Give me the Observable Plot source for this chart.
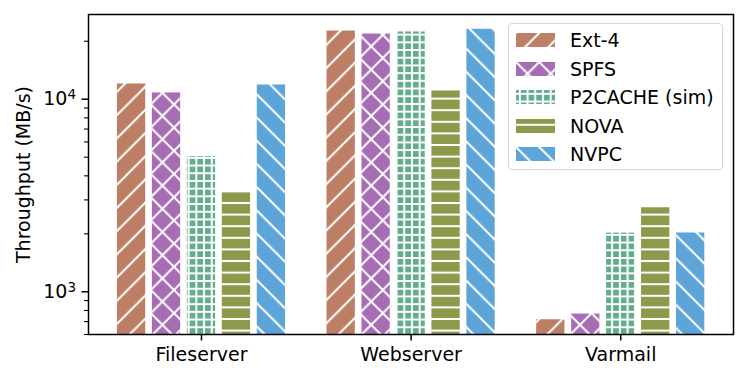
<!DOCTYPE html>
<html><head><meta charset="utf-8">
<script src="https://cdn.jsdelivr.net/npm/d3@7"></script>
<script src="https://cdn.jsdelivr.net/npm/@observablehq/plot@0.6"></script>
<style>
body{margin:0;background:#fff;font-family:"DejaVu Sans",sans-serif;}
#wrap{position:relative;width:747px;height:380px;}
#defs{position:absolute;left:0;top:0;width:0;height:0;}
#legend{position:absolute;left:508px;top:23px;width:215px;height:147px;border:1.5px solid #d6d6d6;border-radius:4px;background:rgba(255,255,255,0.85);box-sizing:border-box;}
.row{position:absolute;left:7px;height:20px;display:flex;align-items:center;font-size:19px;color:#000;white-space:nowrap;}
.row svg{display:block;margin-right:15px;}
</style></head>
<body>
<div id="wrap"><svg id="defs" width="0" height="0"><defs id="pdefs"></defs></svg><div id="chart"></div><div id="legend"></div></div>
<script>
// ---- data ----
const groups = ["Fileserver", "Webserver", "Varmail"];
const seriesNames = ["Ext-4", "SPFS", "P2CACHE (sim)", "NOVA", "NVPC"];
const ext4 = [12000, 22600, 716];
const spfs = [10780, 21800, 766];
const p2cache = [5035, 22350, 2017];
const nova = [3304, 11040, 2731];
const nvpc = [11860, 23080, 2020];
const yMajorTicks = [1000, 10000];
const yMajorExponents = ["3", "4"];
const yMinorTicks = [600, 700, 800, 900, 2000, 3000, 4000, 5000, 6000, 7000, 8000, 9000, 20000];
const groupTicks = [0, 1, 2];

// ---- styles ----
const colors = ["#bc7f65", "#a66cb4", "#63ad8c", "#8b9a4b", "#5da5d9"];
const hatches = ["/", "x", "+", "-", "\\"];
const hatchSize = {"/": 23.2, "x": 23.2, "+": 7.7, "-": 11.6, "\\": 23.2};

const seriesValues = [ext4, spfs, p2cache, nova, nvpc];

function patternMarkup(id, kind, color) {
  const s = hatchSize[kind];
  let path = "";
  const fwd = `M0,${s} L${s},0 M${-s/4},${s/4} L${s/4},${-s/4} M${3*s/4},${5*s/4} L${5*s/4},${3*s/4}`;
  const back = `M0,0 L${s},${s} M${-s/4},${3*s/4} L${s/4},${5*s/4} M${3*s/4},${-s/4} L${5*s/4},${s/4}`;
  if (kind === "/") path = fwd;
  else if (kind === "\\") path = back;
  else if (kind === "x") path = fwd + " " + back;
  else if (kind === "+") path = `M0,${s/2} H${s} M${s/2},0 V${s}`;
  else if (kind === "-") path = `M0,${s/2} H${s}`;
  return `<pattern id="${id}" patternUnits="userSpaceOnUse" width="${s}" height="${s}">` +
    `<rect width="${s}" height="${s}" fill="${color}"/>` +
    `<path d="${path}" stroke="#fff" stroke-width="2" fill="none"/></pattern>`;
}
document.getElementById("pdefs").innerHTML =
  hatches.map((h, i) => patternMarkup("pat" + i, h, colors[i])).join("");

// ---- table ----
const rows = [];
seriesValues.forEach((vals, si) => vals.forEach((v, gi) => rows.push({gi, si, group: groups[gi], series: seriesNames[si], value: v})));

const slot = 0.1668, barW = 0.135, yMin = 600;

const chart = Plot.plot({
  width: 747, height: 380,
  marginLeft: 88, marginRight: 14, marginTop: 14, marginBottom: 46,
  style: {fontFamily: "DejaVu Sans", fontSize: "19px", color: "#000", background: "transparent", overflow: "visible"},
  x: {type: "linear", domain: [-0.539, 2.538]},
  y: {type: "log", domain: [yMin, 27540]},
  marks: [
    ...seriesNames.map((name, si) => Plot.rectY(rows.filter(r => r.si === si), {
      x1: d => d.gi + (d.si - 2) * slot - barW / 2,
      x2: d => d.gi + (d.si - 2) * slot + barW / 2,
      y1: yMin, y2: "value", fill: `url(#pat${si})`
    })),
    Plot.axisY(yMinorTicks, {tickSize: 4, tickFormat: () => "", strokeWidth: 1.1, label: null}),
    Plot.axisY(yMajorTicks, {tickSize: 6.5, tickPadding: 6, strokeWidth: 1.5,
      tickFormat: d => "10^" + yMajorExponents[yMajorTicks.indexOf(d)],
      label: "Throughput (MB/s)", labelAnchor: "center", labelArrow: "none", labelOffset: 72}),
    Plot.axisX(groupTicks, {tickSize: 6.5, tickPadding: 6, strokeWidth: 1.5,
      tickFormat: i => groups[i], label: null}),
    Plot.frame({stroke: "#000", strokeWidth: 1.5})
  ]
});
// render exponents as superscripts
chart.querySelectorAll("text").forEach(t => {
  const m = /^10\^(\d)$/.exec(t.textContent);
  if (m) {
    t.textContent = "10";
    const sup = document.createElementNS("http://www.w3.org/2000/svg", "tspan");
    sup.setAttribute("font-size", "13.5px");
    sup.setAttribute("dy", "-0.45em");
    sup.textContent = m[1];
    t.appendChild(sup);
  }
});
document.getElementById("chart").appendChild(chart);

// ---- legend ----
const legend = document.getElementById("legend");
const rowTops = [6, 34.5, 63, 91.5, 120];
seriesNames.forEach((name, i) => {
  const row = document.createElement("div");
  row.className = "row";
  row.style.top = rowTops[i] + "px";
  row.innerHTML = `<svg width="39" height="14"><rect width="39" height="14" fill="url(#pat${i})"/></svg><span>${name}</span>`;
  legend.appendChild(row);
});
</script>
</body></html>
